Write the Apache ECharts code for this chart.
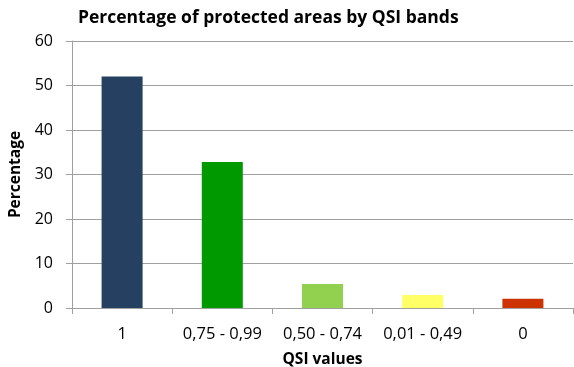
<!DOCTYPE html>
<html>
<head>
<meta charset="utf-8">
<script src="https://cdn.jsdelivr.net/npm/echarts@6/dist/echarts.min.js"></script>
<style>
  html, body { margin: 0; padding: 0; background: #fff; }
  .chart { width: 574px; height: 367px; }
</style>
</head>
<body>
<div class="chart"></div>
<script>
const categories = ['1', '0,75 - 0,99', '0,50 - 0,74', '0,01 - 0,49', '0'];
const percentages = [52, 32.8, 5.4, 2.9, 2.1];
const barColors = ['#254061', '#009900', '#92D050', '#FFFF66', '#CC3300'];

(function () {
  let myChart = echarts.init(document.querySelector('.chart'));
  const font = 'Open Sans, sans-serif';
  let option = {
    animation: false,
    title: {
      text: 'Percentage of protected areas by QSI bands',
      left: 78,
      top: 9,
      padding: 0,
      textStyle: { fontFamily: font, fontSize: 17.5, fontWeight: 'bold', color: '#000' }
    },
    grid: {
      left: 72,
      right: 1,
      top: 41,
      bottom: 59,
      outerBoundsMode: 'none'
    },
    xAxis: {
      type: 'category',
      data: categories,
      name: 'QSI values',
      nameLocation: 'middle',
      nameGap: 44,
      nameTextStyle: { fontFamily: font, fontSize: 15.5, fontWeight: 'bold', color: '#000' },
      axisLine: { lineStyle: { color: '#A0A0A0' } },
      axisTick: { show: true, length: 6, lineStyle: { color: '#A0A0A0' } },
      axisLabel: { fontFamily: font, fontSize: 16.5, color: '#000', margin: 18, interval: 0 }
    },
    yAxis: {
      type: 'value',
      min: 0,
      max: 60,
      interval: 10,
      name: 'Percentage',
      nameLocation: 'middle',
      nameGap: 46,
      nameTextStyle: { fontFamily: font, fontSize: 15.5, fontWeight: 'bold', color: '#000' },
      axisLine: { show: true, lineStyle: { color: '#A0A0A0' } },
      axisTick: { show: true, length: 6, lineStyle: { color: '#A0A0A0' } },
      axisLabel: { fontFamily: font, fontSize: 16, color: '#000', margin: 19 },
      splitLine: { lineStyle: { color: '#A0A0A0' } }
    },
    series: [
      {
        type: 'bar',
        barWidth: 41,
        data: percentages.map((v, i) => ({ value: v, itemStyle: { color: barColors[i] } }))
      }
    ]
  };
  myChart.setOption(option);
})();
</script>
</body>
</html>
